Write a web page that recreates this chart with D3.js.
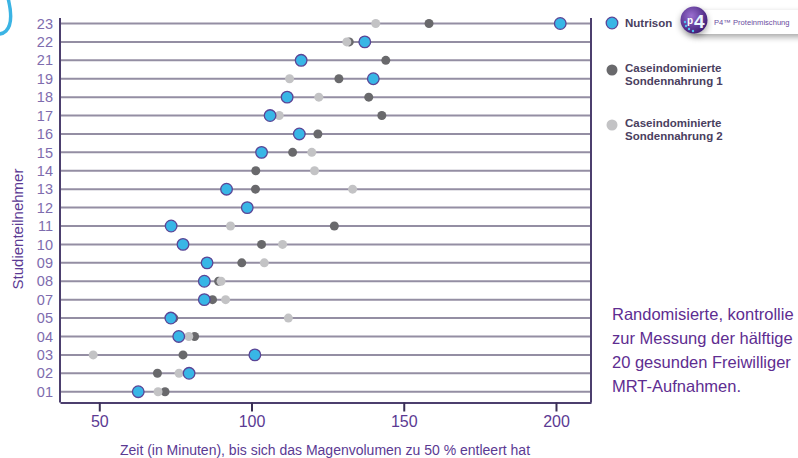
<!DOCTYPE html>
<html>
<head>
<meta charset="utf-8">
<script src="https://cdn.jsdelivr.net/npm/d3@7"></script>
<style>
  body { margin: 0; background: #fff; }
  svg { display: block; font-family: "Liberation Sans", Arial, sans-serif; }
</style>
</head>
<body>
<script>
// Studienteilnehmer (bottom to top)
const participants = ['01','02','03','04','05','07','08','09','10','11','12','13','14','15','16','17','18','19','21','22','23'];
// minutes until 50 % gastric emptying
const nutrison = [62.8, 79.5, 101.1, 76.1, 73.5, 84.5, 84.5, 85.4, 77.5, 73.6, 98.6, 91.8, null, 103.3, 115.7, 106.1, 111.7, 140.0, 116.3, 137.2, 201.4];
const casein1  = [71.6, 69.1, 77.5, 81.3, 74.5, 87.2, 89.2, 96.8, 103.3, 127.2, null, 101.3, 101.4, 113.5, 121.8, 142.8, 138.5, 128.7, 144.1, 132.1, 158.3];
const casein2  = [69.3, 76.2, 48.0, 79.4, 112.1, 91.5, 90.0, 104.2, 110.2, 93.1, null, 133.2, 120.7, 119.8, null, 109.1, 122.1, 112.5, null, 131.3, 140.8];
const xTicks = [50, 100, 150, 200];

const width = 798, height = 458;
const margin = {top: 18, right: 207, bottom: 55, left: 60};

const svg = d3.select('body').append('svg')
  .attr('width', width)
  .attr('height', height);

const x = d3.scaleLinear()
  .domain([37.1, 211.5])
  .range([margin.left, width - margin.right]);

const y = d3.scalePoint()
  .domain(participants)
  .range([391.7, 23.5]);

const plotBottom = 402.5;

// decorative swoosh top left
svg.append('path')
  .attr('d', 'M8,-2 C11,10 13,24 6,31 C4,33 1,34 -2,34')
  .attr('fill', 'none')
  .attr('stroke', '#3bb4e4')
  .attr('stroke-width', 3.5);

// grid lines per participant
svg.append('g')
  .selectAll('line')
  .data(participants)
  .join('line')
    .attr('x1', margin.left)
    .attr('x2', width - margin.right)
    .attr('y1', d => y(d))
    .attr('y2', d => y(d))
    .attr('stroke', '#948ea3')
    .attr('stroke-width', 2);

// frame: left, right
svg.append('line')
  .attr('x1', margin.left).attr('x2', margin.left)
  .attr('y1', margin.top).attr('y2', plotBottom)
  .attr('stroke', '#4c3f6e').attr('stroke-width', 2);
svg.append('line')
  .attr('x1', width - margin.right).attr('x2', width - margin.right)
  .attr('y1', margin.top).attr('y2', plotBottom)
  .attr('stroke', '#4c3f6e').attr('stroke-width', 2);

// x axis
const xAxis = svg.append('g')
  .attr('transform', `translate(0,${plotBottom})`)
  .call(d3.axisBottom(x).tickValues(xTicks).tickSize(9).tickSizeOuter(0).tickPadding(4));
xAxis.select('.domain').attr('stroke', '#4c3f6e').attr('stroke-width', 2);
xAxis.selectAll('.tick line').attr('stroke', '#3a2f55').attr('stroke-width', 2);
xAxis.selectAll('.tick text')
  .attr('fill', '#5b3a93')
  .attr('font-size', 16)
  .attr('font-family', '"Liberation Sans", Arial, sans-serif');

// y axis
const yAxis = svg.append('g')
  .attr('transform', `translate(${margin.left},0)`)
  .call(d3.axisLeft(y).tickSize(0).tickPadding(7));
yAxis.select('.domain').remove();
yAxis.selectAll('.tick text')
  .attr('fill', '#7e6cae')
  .attr('font-size', 14.5)
  .attr('font-family', '"Liberation Sans", Arial, sans-serif');

// axis titles
svg.append('text')
  .attr('x', 325)
  .attr('y', 455)
  .attr('text-anchor', 'middle')
  .attr('fill', '#5b3a93')
  .attr('font-size', 14)
  .text('Zeit (in Minuten), bis sich das Magenvolumen zu 50 % entleert hat');

svg.append('text')
  .attr('transform', 'translate(23,229) rotate(-90)')
  .attr('text-anchor', 'middle')
  .attr('fill', '#5b3a93')
  .attr('font-size', 15)
  .text('Studienteilnehmer');

// dots
function dots(values, fill, r, stroke) {
  const pts = participants.map((p, i) => ({p, v: values[i]})).filter(d => d.v != null);
  svg.append('g')
    .selectAll('circle')
    .data(pts)
    .join('circle')
      .attr('cx', d => x(d.v))
      .attr('cy', d => y(d.p))
      .attr('r', r)
      .attr('fill', fill)
      .attr('stroke', stroke || 'none')
      .attr('stroke-width', stroke ? 1.3 : 0);
}
dots(casein1, '#69696c', 4.5);
dots(casein2, '#c3c3c5', 4.5);
dots(nutrison, '#38b6e6', 5.8, '#5a4596');

// legend
const legend = [
  {label: ['Nutrison'], fill: '#38b6e6', stroke: '#5a4596', y: 23, r: 5.8},
  {label: ['Caseindominierte', 'Sondennahrung 1'], fill: '#69696c', y: 70, r: 5.5},
  {label: ['Caseindominierte', 'Sondennahrung 2'], fill: '#c3c3c5', y: 125, r: 5.5}
];
const lg = svg.append('g');
legend.forEach(d => {
  lg.append('circle')
    .attr('cx', 612).attr('cy', d.y).attr('r', d.r)
    .attr('fill', d.fill)
    .attr('stroke', d.stroke || 'none')
    .attr('stroke-width', d.stroke ? 1.3 : 0);
  d.label.forEach((t, i) => {
    lg.append('text')
      .attr('x', 625)
      .attr('y', d.y + 4 + i * 13.5 - (d.label.length - 1) * 2.5)
      .attr('fill', '#4a4060')
      .attr('font-size', 11.5)
      .attr('font-weight', 'bold')
      .text(t);
  });
});

// P4 badge
const defs = svg.append('defs');
const sh = defs.append('filter').attr('id', 'shadow').attr('x', '-20%').attr('y', '-50%').attr('width', '140%').attr('height', '220%');
sh.append('feDropShadow').attr('dx', 0).attr('dy', 3).attr('stdDeviation', 3).attr('flood-color', '#000').attr('flood-opacity', 0.35);
const rg = defs.append('radialGradient').attr('id', 'p4grad').attr('cx', '40%').attr('cy', '35%').attr('r', '70%');
rg.append('stop').attr('offset', '0%').attr('stop-color', '#9a6fd0');
rg.append('stop').attr('offset', '100%').attr('stop-color', '#3b1a72');

svg.append('rect')
  .attr('x', 688).attr('y', 10).attr('width', 130).attr('height', 24).attr('rx', 12)
  .attr('fill', '#fff')
  .attr('filter', 'url(#shadow)');
svg.append('circle')
  .attr('cx', 694).attr('cy', 20).attr('r', 13.5)
  .attr('fill', 'url(#p4grad)')
  .attr('filter', 'url(#shadow)');
[[-8, 6], [-5, 9], [-1, 11], [-9, 2]].forEach(([dx, dy]) => {
  svg.append('circle').attr('cx', 694 + dx).attr('cy', 20 + dy).attr('r', 1.2).attr('fill', '#4fc3ef');
});
svg.append('text')
  .attr('x', 687).attr('y', 24)
  .attr('fill', '#fff').attr('font-size', 10).attr('font-weight', 'bold')
  .text('p');
svg.append('text')
  .attr('x', 694).attr('y', 28)
  .attr('fill', '#e8f6ff').attr('font-size', 19).attr('font-weight', 'bold')
  .text('4');
svg.append('text')
  .attr('x', 714).attr('y', 25)
  .attr('fill', '#6a4ca0').attr('font-size', 7.6)
  .text('P4™ Proteinmischung');

// side note (cut at the page edge as in the source)
const note = ['Randomisierte, kontrollie', 'zur Messung der hälftige', '20 gesunden Freiwilliger', 'MRT-Aufnahmen.'];
svg.append('g')
  .selectAll('text')
  .data(note)
  .join('text')
    .attr('x', 612)
    .attr('y', (d, i) => 319.5 + i * 24)
    .attr('fill', '#5e2d91')
    .attr('font-size', 16.5)
    .text(d => d);
</script>
</body>
</html>
